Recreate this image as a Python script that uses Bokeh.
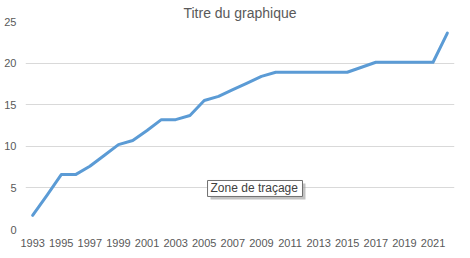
from bokeh.plotting import figure
from bokeh.models import Label, FixedTicker, Range1d, BoxAnnotation
from bokeh.embed import file_html
from bokeh.resources import INLINE

years = list(range(1993, 2023))
values = [1.7, 4.1, 6.6, 6.6, 7.6, 8.9, 10.2, 10.7, 11.9, 13.2,
          13.2, 13.7, 15.5, 16.0, 16.8, 17.6, 18.4, 18.9, 18.9, 18.9,
          18.9, 18.9, 18.9, 19.5, 20.1, 20.1, 20.1, 20.1, 20.1, 23.6]
tick_years = list(range(1993, 2022, 2))
y_ticks = [0, 5, 10, 15, 20, 25]
title_text = "Titre du graphique"
tip_text = "Zone de traçage"

FONT = "Liberation Sans"
GRAY = "#595959"

p = figure(width=470, height=258, output_backend="svg", toolbar_location=None,
           frame_width=429, frame_height=208,
           min_border_left=25, min_border_right=16, min_border_top=21, min_border_bottom=0,
           x_range=Range1d(1992.5, 2022.5), y_range=Range1d(0, 25))
p.outline_line_color = None
p.background_fill_color = "white"
p.border_fill_color = "white"

p.title.text = title_text
p.title.align = "center"
p.title.text_font = FONT
p.title.text_font_size = "14px"
p.title.text_font_style = "normal"
p.title.text_color = GRAY
p.title.standoff = 2

p.line(years, values, line_color="#5b9bd5", line_width=3, line_join="round", line_cap="round")

for ax in (p.xaxis[0], p.yaxis[0]):
    ax.axis_line_color = None
    ax.major_tick_line_color = None
    ax.minor_tick_line_color = None
    ax.major_tick_out = 0
    ax.major_tick_in = 0
    ax.minor_tick_out = 0
    ax.minor_tick_in = 0
    ax.major_label_text_color = GRAY
    ax.major_label_text_font = FONT
    ax.major_label_text_font_size = "11px"

p.xaxis.ticker = FixedTicker(ticks=tick_years)
p.xaxis.major_label_overrides = {y: str(y) for y in tick_years}
p.xaxis.major_label_standoff = 9
p.yaxis.ticker = FixedTicker(ticks=y_ticks)
p.yaxis.major_label_overrides = {v: str(v) for v in y_ticks}
p.yaxis.major_label_standoff = 9

p.xgrid.grid_line_color = None
p.ygrid.ticker = FixedTicker(ticks=y_ticks)
p.ygrid.grid_line_color = "#d9d9d9"
p.ygrid.grid_line_width = 1

# tooltip: shadow, box, text
p.add_layout(BoxAnnotation(left=2005.44, right=2012.08, top=5.53, bottom=3.61,
                           fill_color="#9a9a9a", fill_alpha=0.6, line_color=None))
p.add_layout(BoxAnnotation(left=2005.23, right=2011.87, top=5.89, bottom=3.97,
                           fill_color="white", fill_alpha=1.0,
                           line_color="#707070", line_width=1, line_alpha=1.0))
p.add_layout(Label(x=2005.44, y=4.93, text=tip_text, text_baseline="middle",
                   text_align="left", text_font=FONT, text_font_size="12px",
                   text_color="#404040"))

open("out.html", "w").write(file_html(p, INLINE))
